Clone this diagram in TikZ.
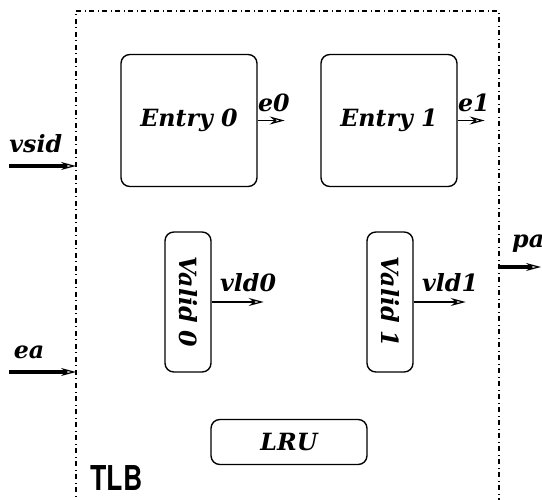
\documentclass[tikz,border=0pt]{standalone}
\usepackage{fontspec}
\newfontfamily\tlbfont{TeX Gyre Heros}
\newfontfamily\sigfont{DejaVu Serif}
\usepackage{tikz}
\usetikzlibrary{arrows.meta,positioning}
\newcommand{\lbl}{\sigfont\fontsize{13.5}{15}\selectfont\bfseries\itshape}

\begin{document}
\begin{tikzpicture}[x=0.02cm,y=-0.02cm,font=\lbl,
  >={Stealth[open,length=3mm,width=1.6mm,line width=0.7pt]},
  unit/.style={draw,line width=0.8pt,rounded corners=5pt,inner sep=0pt},
  sig/.style={->,line width=0.8pt},
  bus/.style={->,line width=2.2pt}]
\useasboundingbox (0,0) rectangle (542,500);
% TLB frame, open at the bottom
\coordinate (frameL) at (76,11);
\coordinate (frameR) at (499,11);
\draw[dash dot,line width=0.6pt] (76,505) -- (frameL) -- (frameR) -- (499,505);
\node[anchor=base west,inner sep=0pt,font=\tlbfont\fontsize{19.5}{22}\selectfont\bfseries] (tlb) at (90,491) {\scalebox{0.78}[1]{TLB}};
% entries and valid bits
\foreach \i/\xe/\xv in {0/189/188, 1/389/390}{
  \node[unit,minimum width=2.72cm,minimum height=2.64cm] (entry\i) at (\xe,120.5) {Entry \i};
  \draw[sig] (entry\i.east) -- ++(27,0) node[pos=0.6,above=1pt] {e\i};
  \node[unit,minimum width=0.92cm,minimum height=2.8cm] (valid\i) at (\xv,302) {\rotatebox{-90}{Valid \i}};
  \draw[sig] (valid\i.east) -- ++(52,0) node[pos=0.7,above=2pt] {vld\i};
}
\node[unit,minimum width=3.12cm,minimum height=0.9cm] (lru) at (289,442) {LRU};
% inputs / output
\coordinate (vsidin) at (9,166);
\coordinate (eain) at (9,372);
\coordinate (paout) at (541,267);
\draw[bus] (vsidin) -- (vsidin -| frameL) node[pos=0.4,above=3pt] {vsid};
\draw[bus] (eain) -- (eain -| frameL) node[pos=0.3,above=3pt] {ea};
\draw[bus] (paout -| frameR) -- (paout);
\node[anchor=south west] (palbl) at (506,259) {pa};
\end{tikzpicture}
\end{document}
